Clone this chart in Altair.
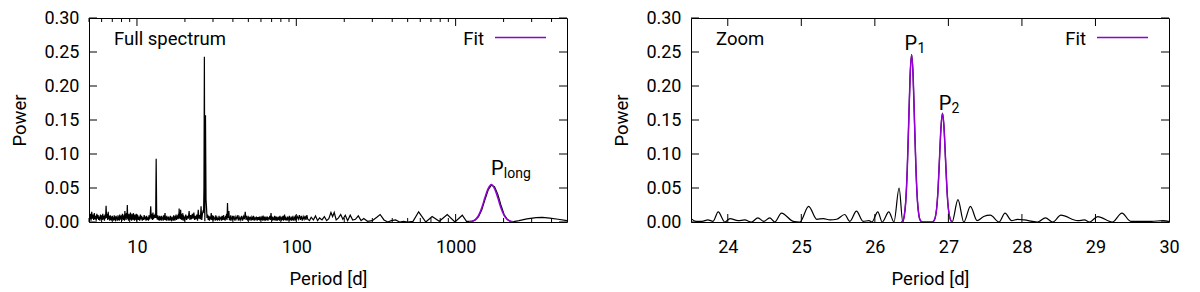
import altair as alt
import pandas as pd

FONT = "Roboto"
PURPLE = "#9400D3"

# ---------------- left panel: full periodogram ----------------
segA_period = [5.00, 5.05, 5.10, 5.15, 5.20, 5.25, 5.30, 5.35, 5.40, 5.45,
               5.50, 5.55, 5.60, 5.65, 5.70, 5.75, 5.80, 5.85, 5.90, 5.95,
               6.00, 6.05, 6.10, 6.15, 6.20, 6.25, 6.30, 6.35, 6.40, 6.45,
               6.50, 6.55, 6.60, 6.65, 6.70, 6.75, 6.80, 6.85, 6.90, 6.95,
               7.00, 7.05, 7.10, 7.15, 7.20, 7.25, 7.30, 7.35, 7.40, 7.45,
               7.50, 7.55, 7.60, 7.65, 7.70, 7.75, 7.80, 7.85, 7.90, 7.95,
               8.00, 8.05, 8.10, 8.15, 8.20, 8.25, 8.30, 8.35, 8.40, 8.45,
               8.50, 8.55, 8.60, 8.65, 8.70, 8.75, 8.80, 8.85, 8.90, 8.95,
               9.00, 9.05, 9.10, 9.15, 9.20, 9.25, 9.30, 9.35, 9.40, 9.45,
               9.50, 9.55, 9.60, 9.65, 9.70, 9.75, 9.80, 9.85, 9.90, 9.95]
segA_power = [0.014, 0.004, 0.012, 0.002, 0.015, 0.005, 0.011, 0.003, 0.013, 0.004,
              0.009, 0.002, 0.012, 0.005, 0.010, 0.003, 0.008, 0.002, 0.011, 0.004,
              0.010, 0.003, 0.012, 0.004, 0.009, 0.002, 0.011, 0.005, 0.024, 0.006,
              0.012, 0.003, 0.015, 0.004, 0.009, 0.002, 0.010, 0.003, 0.008, 0.002,
              0.009, 0.004, 0.007, 0.002, 0.010, 0.003, 0.008, 0.001, 0.009, 0.004,
              0.007, 0.002, 0.010, 0.003, 0.008, 0.002, 0.011, 0.004, 0.009, 0.003,
              0.010, 0.002, 0.012, 0.004, 0.009, 0.003, 0.011, 0.002, 0.016, 0.005,
              0.012, 0.003, 0.013, 0.006, 0.025, 0.004, 0.010, 0.002, 0.012, 0.004,
              0.011, 0.003, 0.014, 0.005, 0.009, 0.002, 0.012, 0.004, 0.010, 0.003,
              0.013, 0.004, 0.009, 0.002, 0.011, 0.003, 0.008, 0.005, 0.012, 0.003]

segB_period = [10.0, 10.1, 10.2, 10.3, 10.4, 10.5, 10.6, 10.7, 10.8, 10.9,
               11.0, 11.1, 11.2, 11.3, 11.4, 11.5, 11.6, 11.7, 11.8, 11.9,
               12.0, 12.1, 12.2, 12.3, 12.4, 12.5, 12.6, 12.7, 12.8, 12.9,
               13.0, 13.1, 13.2, 13.3, 13.4, 13.5, 13.6, 13.7, 13.8, 13.9,
               14.0, 14.1, 14.2, 14.3, 14.4, 14.5, 14.6, 14.7, 14.8, 14.9,
               15.0, 15.1, 15.2, 15.3, 15.4, 15.5, 15.6, 15.7, 15.8, 15.9,
               16.0, 16.1, 16.2, 16.3, 16.4, 16.5, 16.6, 16.7, 16.8, 16.9,
               17.0, 17.1, 17.2, 17.3, 17.4, 17.5, 17.6, 17.7, 17.8, 17.9,
               18.0, 18.1, 18.2, 18.3, 18.4, 18.5, 18.6, 18.7, 18.8, 18.9,
               19.0, 19.1, 19.2, 19.3, 19.4, 19.5, 19.6, 19.7, 19.8, 19.9]
segB_power = [0.004, 0.010, 0.003, 0.008, 0.002, 0.011, 0.004, 0.009, 0.002, 0.007,
              0.003, 0.010, 0.004, 0.008, 0.002, 0.009, 0.003, 0.007, 0.002, 0.010,
              0.004, 0.009, 0.023, 0.005, 0.012, 0.003, 0.014, 0.004, 0.010, 0.006,
              0.012, 0.006, 0.093, 0.008, 0.004, 0.010, 0.003, 0.008, 0.002, 0.009,
              0.003, 0.008, 0.002, 0.009, 0.004, 0.007, 0.002, 0.010, 0.003, 0.008,
              0.013, 0.003, 0.008, 0.002, 0.009, 0.004, 0.007, 0.002, 0.008, 0.003,
              0.006, 0.002, 0.009, 0.003, 0.007, 0.001, 0.008, 0.004, 0.006, 0.002,
              0.010, 0.003, 0.008, 0.002, 0.009, 0.004, 0.011, 0.003, 0.008, 0.005,
              0.010, 0.004, 0.012, 0.005, 0.020, 0.006, 0.011, 0.004, 0.018, 0.005,
              0.012, 0.003, 0.009, 0.004, 0.013, 0.002, 0.010, 0.004, 0.008, 0.003]

segC_period = [20.00, 20.25, 20.50, 20.75, 21.00, 21.25, 21.50, 21.75, 22.00, 22.25,
               22.50, 22.75, 23.00, 23.25, 23.50, 23.75, 24.00, 24.25, 24.50, 24.75,
               25.00, 25.25, 25.50, 25.75, 26.00,
               26.19, 26.33, 26.49, 26.67, 26.92, 27.13,
               27.35,
               27.50, 27.75, 28.00, 28.25, 28.50, 28.75, 29.00, 29.25, 29.50, 29.75,
               30.00, 30.25, 30.50, 30.75, 31.00, 31.25, 31.50, 31.75, 32.00, 32.25,
               32.50, 32.75, 33.00, 33.25, 33.50, 33.75, 34.00, 34.25, 34.50, 34.75,
               35.00, 35.25, 35.50, 35.75, 36.00, 36.25, 36.50, 36.75, 37.00, 37.25,
               37.50, 37.75, 38.00, 38.25, 38.50, 38.75, 39.00, 39.25, 39.50, 39.75]
segC_power = [0.004, 0.011, 0.003, 0.009, 0.005, 0.016, 0.003, 0.010, 0.004, 0.012,
              0.005, 0.014, 0.003, 0.009, 0.004, 0.011, 0.002, 0.018, 0.005, 0.010,
              0.004, 0.023, 0.003, 0.012, 0.016,
              0.015, 0.050, 0.243, 0.001, 0.157, 0.033,
              0.020,
              0.006, 0.011, 0.003, 0.009, 0.002, 0.008, 0.004, 0.013, 0.003, 0.010,
              0.002, 0.009, 0.004, 0.007, 0.002, 0.010, 0.003, 0.008, 0.002, 0.006,
              0.003, 0.009, 0.002, 0.007, 0.004, 0.008, 0.002, 0.009, 0.003, 0.006,
              0.010, 0.003, 0.007, 0.002, 0.009, 0.004, 0.012, 0.003, 0.028, 0.006,
              0.011, 0.016, 0.003, 0.008, 0.002, 0.010, 0.004, 0.007, 0.002, 0.009]

segD_period = [40.0, 40.6, 41.2, 41.8, 42.4, 43.0, 43.6, 44.2, 44.8, 45.4,
               46.0, 46.6, 47.2, 47.8, 48.4, 49.0, 49.6, 50.2, 50.8, 51.4,
               52.0, 52.6, 53.2, 53.8, 54.4, 55.0, 55.6, 56.2, 56.8, 57.4,
               58.0, 58.6, 59.2, 59.8, 60.4, 61.0, 61.6, 62.2, 62.8, 63.4,
               64.0, 64.6, 65.2, 65.8, 66.4, 67.0, 67.6, 68.2, 68.8, 69.4,
               70.0, 70.6, 71.2, 71.8, 72.4, 73.0, 73.6, 74.2, 74.8, 75.4,
               76.0, 76.6, 77.2, 77.8, 78.4, 79.0, 79.6, 80.2, 80.8, 81.4,
               82.0, 82.6, 83.2, 83.8, 84.4, 85.0, 85.6, 86.2, 86.8, 87.4,
               88.0, 88.6, 89.2, 89.8, 90.4, 91.0, 91.6, 92.2, 92.8, 93.4,
               94.0, 94.6, 95.2, 95.8, 96.4, 97.0, 97.6, 98.2, 98.8, 99.4]
segD_power = [0.003, 0.009, 0.002, 0.008, 0.004, 0.010, 0.002, 0.007, 0.003, 0.009,
              0.002, 0.008, 0.004, 0.015, 0.003, 0.009, 0.002, 0.007, 0.004, 0.008,
              0.002, 0.007, 0.003, 0.009, 0.002, 0.006, 0.004, 0.008, 0.002, 0.007,
              0.003, 0.008, 0.002, 0.006, 0.003, 0.009, 0.002, 0.007, 0.004, 0.008,
              0.002, 0.006, 0.003, 0.008, 0.002, 0.007, 0.004, 0.009, 0.003, 0.013,
              0.004, 0.008, 0.002, 0.007, 0.003, 0.009, 0.002, 0.006, 0.004, 0.008,
              0.002, 0.007, 0.003, 0.008, 0.002, 0.009, 0.004, 0.007, 0.002, 0.008,
              0.003, 0.009, 0.002, 0.007, 0.011, 0.003, 0.008, 0.002, 0.006, 0.003,
              0.008, 0.002, 0.007, 0.004, 0.009, 0.002, 0.006, 0.003, 0.008, 0.002,
              0.007, 0.003, 0.009, 0.002, 0.006, 0.004, 0.008, 0.002, 0.010, 0.003]

segE_period = [101.5, 103, 104.5, 106, 107.5, 109, 110.5, 112, 113.5, 115,
               116.5, 118, 121, 124, 128, 132, 136, 140, 145, 150,
               155, 160, 165, 169, 173, 178, 184, 190, 196, 203,
               210, 218, 226, 235, 245, 255, 265, 280, 300, 320,
               336, 355, 375, 395, 420, 445, 470, 500, 540, 586,
               650, 712, 790, 886, 990, 1101, 1170]
segE_power = [0.008, 0.004, 0.010, 0.003, 0.009, 0.002, 0.008, 0.004, 0.009, 0.003,
              0.010, 0.004, 0.002, 0.007, 0.003, 0.009, 0.002, 0.006, 0.003, 0.008,
              0.002, 0.005, 0.014, 0.008, 0.014, 0.003, 0.006, 0.011, 0.004, 0.010,
              0.002, 0.010, 0.003, 0.004, 0.009, 0.002, 0.005, 0.001, 0.002, 0.007,
              0.011, 0.003, 0.000, 0.002, 0.003, 0.000, 0.001, 0.000, 0.001, 0.015,
              0.000, 0.008, 0.001, 0.011, 0.000, 0.010, 0.001]

segF_period = [1213, 1271, 1330, 1393, 1459, 1528, 1600, 1675, 1754, 1837,
               1923, 2014, 2109, 2208, 2312, 2500, 2800, 3200, 3500, 3900,
               4400, 5000]
segF_power = [0.001, 0.001, 0.003, 0.008, 0.018, 0.033, 0.047, 0.054, 0.052, 0.041,
              0.025, 0.011, 0.004, 0.001, 0.0005, 0.002, 0.0045, 0.0065, 0.0068, 0.0058,
              0.004, 0.002]

fitL_period = [1213, 1271, 1330, 1393, 1459, 1528, 1600, 1675, 1754, 1837,
               1923, 2014, 2109, 2208, 2312]
fitL_power = [0.0002, 0.0011, 0.0037, 0.0098, 0.021, 0.036, 0.049, 0.055, 0.049, 0.036,
              0.021, 0.0098, 0.0037, 0.0011, 0.0002]

# ---------------- right panel: zoom ----------------
zoom_period = [23.50, 23.57, 23.65, 23.73, 23.80, 23.87, 23.96, 24.03, 24.14, 24.23,
               24.32, 24.41, 24.49, 24.57, 24.64, 24.73, 24.89, 24.98, 25.10, 25.21,
               25.30, 25.39, 25.48, 25.59, 25.66, 25.75, 25.84, 25.92, 25.96, 26.04,
               26.10, 26.19, 26.26, 26.33, 26.38, 26.40, 26.42, 26.44, 26.46, 26.48,
               26.50, 26.52, 26.54, 26.56, 26.58, 26.60, 26.62, 26.66, 26.74, 26.78,
               26.80, 26.82, 26.84, 26.86, 26.88, 26.90, 26.92, 26.94, 26.96, 26.98,
               27.00, 27.02, 27.05, 27.13, 27.21, 27.30, 27.39, 27.48, 27.57, 27.69,
               27.77, 27.86, 27.94, 28.03, 28.21, 28.32, 28.42, 28.53, 28.76, 28.85,
               28.92, 29.03, 29.23, 29.36, 29.48, 29.76, 29.92, 30.00]
zoom_power = [0.005, 0.001, 0.001, 0.003, 0.001, 0.015, 0.000, 0.005, 0.002, 0.003,
              0.000, 0.006, 0.001, 0.006, 0.000, 0.013, 0.001, 0.000, 0.023, 0.004,
              0.005, 0.003, 0.004, 0.011, 0.001, 0.016, 0.001, 0.002, 0.000, 0.015,
              0.000, 0.015, 0.000, 0.050, 0.000, 0.009, 0.030, 0.075, 0.145, 0.216,
              0.246, 0.216, 0.145, 0.075, 0.030, 0.009, 0.002, 0.000, 0.000, 0.000,
              0.0014, 0.006, 0.0195, 0.049, 0.095, 0.140, 0.160, 0.140, 0.095, 0.049,
              0.0195, 0.006, 0.000, 0.033, 0.000, 0.023, 0.002, 0.008, 0.010, 0.000,
              0.013, 0.002, 0.004, 0.003, 0.000, 0.006, 0.000, 0.010, 0.002, 0.003,
              0.000, 0.008, 0.000, 0.013, 0.001, 0.001, 0.002, 0.001]

fitR_period = [26.36, 26.38, 26.40, 26.42, 26.44, 26.46, 26.48, 26.50, 26.52, 26.54,
               26.56, 26.58, 26.60, 26.62, 26.64, 26.78, 26.80, 26.82, 26.84, 26.86,
               26.88, 26.90, 26.92, 26.94, 26.96, 26.98, 27.00, 27.02, 27.04, 27.06]
fitR_power = [0.000, 0.002, 0.009, 0.030, 0.075, 0.145, 0.216, 0.246, 0.216, 0.145,
              0.075, 0.030, 0.009, 0.002, 0.000, 0.000, 0.0014, 0.006, 0.0195, 0.049,
              0.095, 0.140, 0.160, 0.140, 0.095, 0.049, 0.0195, 0.006, 0.0014, 0.000]

# ---------------- ticks and annotations ----------------
y_ticks = [0.0, 0.05, 0.10, 0.15, 0.20, 0.25, 0.30]
left_major = [10, 100, 1000]
left_minor = [5, 6, 7, 8, 9, 20, 30, 40, 50, 60, 70, 80, 90,
              200, 300, 400, 500, 600, 700, 800, 900, 2000, 3000, 4000]
right_major = [24, 25, 26, 27, 28, 29]
right_labels = [24, 25, 26, 27, 28, 29, 30]

annL_x, annL_y, annL_main, annL_sub = [1828], [0.0697], ["P"], ["long"]
annR_x = [26.49, 26.955]
annR_y = [0.2535, 0.1653]
annR_main = ["P", "P"]
annR_sub = ["1", "2"]

W, H = 478, 204
MAJ, MIN = 8, 4
TXT = 18.5

yscale = alt.Scale(domain=[0, 0.3], nice=False, zero=False)


def panel(line_p, line_v, fit_p, fit_v, xscale, xlabels, major, minor,
          corner_text, ax, ay, amain, asub, interp):
    line_df = pd.DataFrame({"period": line_p, "power": line_v})
    fit_df = pd.DataFrame({"period": fit_p, "power": fit_v})

    xaxis = alt.Axis(values=xlabels, format="d", title="Period [d]", ticks=False,
                     domain=False, grid=False, labelPadding=25,
                     labelBaseline="middle", labelFlush=False, labelOverlap=False,
                     titleX=W / 2, titleY=56, titleBaseline="middle")
    yaxis = alt.Axis(values=y_ticks, format=".2f", title="Power", ticks=False,
                     domain=False, grid=False, labelPadding=10,
                     labelAlign="right", labelBaseline="middle", labelFlush=False,
                     labelOverlap=False, titleX=-70, titleY=H / 2,
                     titleBaseline="middle")

    X = lambda f: alt.X(f, scale=xscale, axis=None)
    Y = lambda f: alt.Y(f, scale=yscale, axis=None)

    spec = alt.Chart(line_df).mark_line(color="black", strokeWidth=1.2, clip=True,
                                        interpolate=interp).encode(
        x=alt.X("period:Q", scale=xscale, axis=xaxis),
        y=alt.Y("power:Q", scale=yscale, axis=yaxis),
    )
    fit = alt.Chart(fit_df).mark_line(color=PURPLE, strokeWidth=1.5, clip=True,
                                      interpolate="monotone").encode(
        x=X("period:Q"), y=Y("power:Q"))

    ytk = pd.DataFrame({"v": y_ticks})
    ytick_l = alt.Chart(ytk).mark_rule(color="black", strokeWidth=1).encode(
        y=Y("v:Q"), x=alt.value(0), x2=alt.value(MAJ))
    ytick_r = alt.Chart(ytk).mark_rule(color="black", strokeWidth=1).encode(
        y=Y("v:Q"), x=alt.value(W - MAJ), x2=alt.value(W))

    layers = [spec, fit, ytick_l, ytick_r]
    for vals, ln in ((major, MAJ), (minor, MIN)):
        if not vals:
            continue
        tdf = pd.DataFrame({"v": vals})
        layers.append(alt.Chart(tdf).mark_rule(color="black", strokeWidth=1).encode(
            x=X("v:Q"), y=alt.value(H), y2=alt.value(H - ln)))
        layers.append(alt.Chart(tdf).mark_rule(color="black", strokeWidth=1).encode(
            x=X("v:Q"), y=alt.value(0), y2=alt.value(ln)))

    one = pd.DataFrame({"t": [corner_text]})
    layers.append(alt.Chart(one).mark_text(align="left", baseline="middle", fontSize=TXT,
                                           font=FONT, color="black").encode(
        text="t:N", x=alt.value(25), y=alt.value(20.5)))
    fit_lbl = pd.DataFrame({"t": ["Fit"]})
    layers.append(alt.Chart(fit_lbl).mark_text(align="right", baseline="middle", fontSize=TXT,
                                               font=FONT, color="black").encode(
        text="t:N", x=alt.value(395), y=alt.value(20.5)))
    layers.append(alt.Chart(fit_lbl).mark_rule(color=PURPLE, strokeWidth=1.5).encode(
        x=alt.value(406), x2=alt.value(457), y=alt.value(19.5)))

    adf = pd.DataFrame({"x": ax, "y": ay, "m": amain, "s": asub})
    layers.append(alt.Chart(adf).mark_text(align="center", baseline="alphabetic",
                                           fontSize=20, font=FONT, color="black").encode(
        x=X("x:Q"), y=Y("y:Q"), text="m:N"))
    layers.append(alt.Chart(adf).mark_text(align="left", baseline="alphabetic", dx=6.5, dy=3,
                                           fontSize=14, font=FONT, color="black").encode(
        x=X("x:Q"), y=Y("y:Q"), text="s:N"))

    return alt.layer(*layers).resolve_axis(x="independent", y="independent").properties(
        width=W, height=H)


left = panel(segA_period + segB_period + segC_period + segD_period + segE_period + segF_period,
             segA_power + segB_power + segC_power + segD_power + segE_power + segF_power,
             fitL_period, fitL_power,
             alt.Scale(type="log", domain=[5, 5000], nice=False),
             left_major, left_major, left_minor, "Full spectrum",
             annL_x, annL_y, annL_main, annL_sub, "linear")

right = panel(zoom_period, zoom_power, fitR_period, fitR_power,
              alt.Scale(domain=[23.5, 30], nice=False, zero=False),
              right_labels, right_major, [], "Zoom",
              annR_x, annR_y, annR_main, annR_sub, "monotone")

chart = alt.hconcat(left, right, spacing=43).properties(
    padding={"left": 1, "top": 0, "right": 0, "bottom": 0}
).configure_view(stroke="black", strokeWidth=1).configure_axis(
    labelFont=FONT, titleFont=FONT, labelFontSize=18, titleFontSize=TXT,
    labelColor="black", titleColor="black", titleFontWeight="normal"
)

chart.save("out.html", embed_options={"renderer": "svg", "actions": False})
